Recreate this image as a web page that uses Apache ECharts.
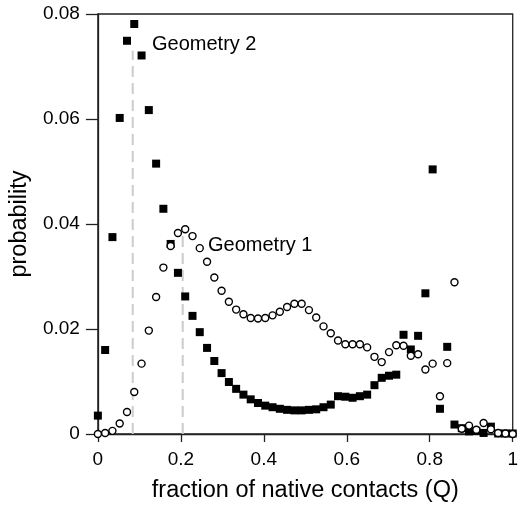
<!DOCTYPE html>
<html>
<head>
<meta charset="utf-8">
<script src="https://cdn.jsdelivr.net/npm/echarts@6/dist/echarts.min.js"></script>
<style>
html,body{margin:0;padding:0;background:#fff;}
#chart{width:521px;height:508px;}
</style>
</head>
<body>
<div id="chart"></div>
<script>
// Q = fraction of native contacts
var qValues = [0,0.0175,0.0351,0.0526,0.0702,0.0877,0.1053,0.1228,0.1404,0.1579,
  0.1754,0.1930,0.2105,0.2281,0.2456,0.2632,0.2807,0.2982,0.3158,0.3333,
  0.3509,0.3684,0.3860,0.4035,0.4211,0.4386,0.4561,0.4737,0.4912,0.5088,
  0.5263,0.5439,0.5614,0.5789,0.5965,0.6140,0.6316,0.6491,0.6667,0.6842,
  0.7018,0.7193,0.7368,0.7544,0.7719,0.7895,0.8070,0.8246,0.8421,0.8596,
  0.8772,0.8947,0.9123,0.9298,0.9474,0.9649,0.9825,1];
// Geometry 2 (filled squares)
var geometry2 = [0.0035,0.0160,0.0375,0.0602,0.0749,0.0781,0.0721,0.0617,0.0515,0.0429,
  0.0362,0.0307,0.0262,0.0225,0.0194,0.0164,0.0139,0.0116,0.0099,0.0086,
  0.0075,0.0066,0.0059,0.0054,0.0051,0.0048,0.0046,0.0045,0.0045,0.0046,
  0.0047,0.0051,0.0056,0.0072,0.0071,0.0069,0.0072,0.0075,0.0093,0.0107,
  0.0111,0.0113,0.0189,0.0161,0.0187,0.0268,0.0504,0.0048,0.0166,0.0018,
  0.0011,0.0005,0.0006,0.0002,0.0014,0.0001,0.0001,0.0001];
// Geometry 1 (open circles)
var geometry1 = [0.0000,0.0002,0.0006,0.0020,0.0042,0.0080,0.0134,0.0197,0.0261,0.0317,
  0.0358,0.0383,0.0390,0.0377,0.0354,0.0328,0.0298,0.0273,0.0252,0.0237,
  0.0228,0.0221,0.0220,0.0221,0.0226,0.0233,0.0242,0.0248,0.0248,0.0236,
  0.0222,0.0205,0.0192,0.0178,0.0171,0.0171,0.0171,0.0165,0.0147,0.0137,
  0.0156,0.0169,0.0168,0.0149,0.0152,0.0123,0.0134,0.0072,0.0135,0.0289,
  0.0010,0.0016,0.0008,0.0021,0.0009,0.0002,0.0001,0.0000];
// dashed guide lines: [Q, top probability]
var guide2 = [0.084, 0.073];
var guide1 = [0.2045, 0.038];
var xTicks = [0, 0.2, 0.4, 0.6, 0.8, 1];
var yTicks = [0, 0.02, 0.04, 0.06, 0.08];
var labelGeom2 = 'Geometry 2';
var labelGeom1 = 'Geometry 1';

var FONT = '"Liberation Sans", Arial, sans-serif';
function pairs(xs, ys){ return xs.map(function(x,i){ return [x, ys[i]]; }); }

var chart = echarts.init(document.getElementById('chart'), null, {renderer:'canvas'});
chart.setOption({
  animation:false,
  backgroundColor:'#fff',
  grid:{left:94, right:4.5, top:14, bottom:70.5, show:true, borderColor:'#222', borderWidth:1.3},
  xAxis:{
    type:'value', min:xTicks[0], max:xTicks[xTicks.length-1], interval:0.2,
    name:'fraction of native contacts (Q)', nameLocation:'middle', nameGap:45,
    nameTextStyle:{fontFamily:FONT, fontSize:23.5, color:'#000'},
    axisLine:{show:true, onZero:false, lineStyle:{color:'#222', width:1.3}},
    axisTick:{show:true, length:8, lineStyle:{color:'#222', width:1.3}},
    axisLabel:{fontFamily:FONT, fontSize:19, color:'#000', margin:16,
      formatter:function(v){ return String(+v.toFixed(2)); }},
    splitLine:{show:false}
  },
  yAxis:{
    type:'value', min:yTicks[0], max:yTicks[yTicks.length-1], interval:0.02,
    name:'probability', nameLocation:'middle', nameGap:58,
    nameTextStyle:{fontFamily:FONT, fontSize:23.5, color:'#000'},
    axisLine:{show:true, onZero:false, lineStyle:{color:'#222', width:1.3}},
    axisTick:{show:true, length:12, lineStyle:{color:'#222', width:1.3}},
    axisLabel:{fontFamily:FONT, fontSize:19, color:'#000', margin:18,
      formatter:function(v){ return String(+v.toFixed(2)); }},
    splitLine:{show:false}
  },
  series:[
    {type:'line', data:[[guide2[0],0],[guide2[0],guide2[1]]], symbol:'none', silent:true,
      lineStyle:{color:'#cccccc', width:2, type:[11,6]}, z:1},
    {type:'line', data:[[guide1[0],0],[guide1[0],guide1[1]]], symbol:'none', silent:true,
      lineStyle:{color:'#cccccc', width:2, type:[11,6]}, z:1},
    {type:'scatter', name:labelGeom2, data:pairs(qValues, geometry2), symbol:'rect', symbolSize:8,
      itemStyle:{color:'#000', opacity:1}, z:2},
    {type:'scatter', name:labelGeom1, data:pairs(qValues, geometry1), symbol:'circle', symbolSize:7,
      itemStyle:{color:'#fff', borderColor:'#000', borderWidth:1.4, opacity:1}, z:3}
  ],
  graphic:[
    {type:'text', left:152, top:34, style:{text:labelGeom2, fontFamily:FONT, fontSize:20, fill:'#000'}},
    {type:'text', left:208, top:235, style:{text:labelGeom1, fontFamily:FONT, fontSize:20, fill:'#000'}}
  ]
});
</script>
</body>
</html>
